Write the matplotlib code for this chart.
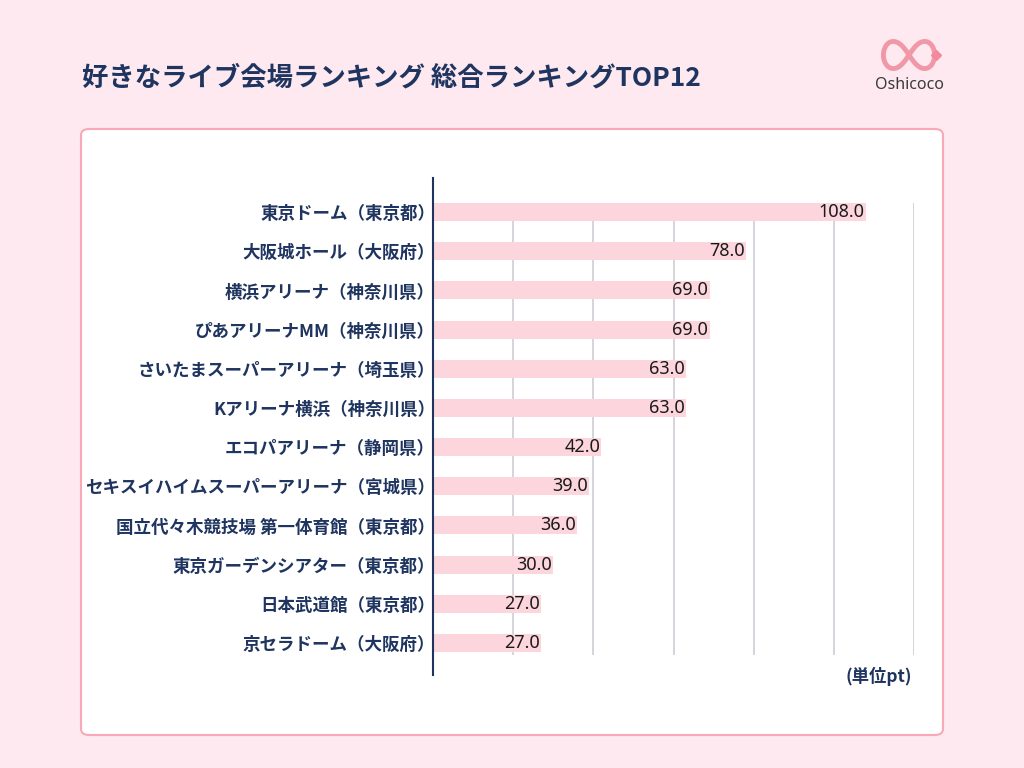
import matplotlib
matplotlib.use("Agg")
import matplotlib.pyplot as plt
import numpy as np
from matplotlib.patches import FancyBboxPatch

plt.rcParams['font.family'] = ['Noto Sans CJK JP', 'DejaVu Sans']

categories = [
    "東京ドーム（東京都）",
    "大阪城ホール（大阪府）",
    "横浜アリーナ（神奈川県）",
    "ぴあアリーナMM（神奈川県）",
    "さいたまスーパーアリーナ（埼玉県）",
    "Kアリーナ横浜（神奈川県）",
    "エコパアリーナ（静岡県）",
    "セキスイハイムスーパーアリーナ（宮城県）",
    "国立代々木競技場 第一体育館（東京都）",
    "東京ガーデンシアター（東京都）",
    "日本武道館（東京都）",
    "京セラドーム（大阪府）",
]
values = [108.0, 78.0, 69.0, 69.0, 63.0, 63.0, 42.0, 39.0, 36.0, 30.0, 27.0, 27.0]
grid_ticks = [20, 40, 60, 80, 100, 120]

title = "好きなライブ会場ランキング 総合ランキングTOP12"
unit_label = "(単位pt)"

NAVY = "#1f3560"
BG = "#fde9ef"
BAR = "#fcd5dd"
BORDER = "#f7a9b8"

W, H = 1024, 768
fig = plt.figure(figsize=(W / 100, H / 100), dpi=100)
fig.patch.set_facecolor(BG)

# white panel
panel = FancyBboxPatch((81 / W, 1 - 735 / H), (943 - 81) / W, (735 - 129) / H,
                       boxstyle="round,pad=0,rounding_size=0.008",
                       transform=fig.transFigure, facecolor="white",
                       edgecolor=BORDER, linewidth=1.5, zorder=-5)
fig.patches.append(panel)

fig.text(82 / W, 1 - 78 / H, title, fontsize=19, fontweight='bold', color=NAVY,
         va='center', ha='left')

# logo
lax = fig.add_axes([877 / W, 1 - 73 / H, 64 / W, 36 / H])
lax.set_xlim(-1.25, 1.25)
lax.set_ylim(-0.75, 0.75)
lax.axis('off')
t = np.linspace(0, 2 * np.pi, 400)
lx = np.cos(t) / (1 + np.sin(t) ** 2)
ly = np.sin(t) * np.cos(t) / (1 + np.sin(t) ** 2) * 1.6
lax.plot(lx, ly, color="#f08a9c", lw=3.5, alpha=0.85, solid_capstyle='round')
lax.plot([1.05], [0.0], marker='D', color="#f08a9c", ms=5)
fig.text(910 / W, 1 - 85 / H, "Oshicoco", fontsize=11.5, color="#3a3a3a",
         ha='center', va='center', family=['Noto Sans', 'DejaVu Sans'])

# main chart
ax = fig.add_axes([433 / W, 1 - 675 / H, (914 - 433) / W, (675 - 178) / H])
ax.set_zorder(3)
ax.set_facecolor('none')
y = np.arange(len(categories))
ax.set_xlim(0, 120)
ax.set_ylim(11.82, -0.87)
ax.vlines(grid_ticks, -0.23, 11.31, color="#d0ccd4", lw=1.2, zorder=1)
ax.barh(y, values, height=0.46, color=BAR, zorder=2)
for yi, v in zip(y, values):
    ax.text(v - 0.3, yi, f"{v:.1f}", ha='right', va='center', fontsize=13,
            color="#1a1a1a", zorder=3, family=['Noto Sans', 'DejaVu Sans'])
ax.set_yticks(y)
ax.set_yticklabels(categories, fontsize=12.6, fontweight='bold', color=NAVY)
ax.tick_params(axis='y', length=0, pad=-1.5)
ax.set_xticks([])
for s in ['top', 'right', 'bottom']:
    ax.spines[s].set_visible(False)
ax.spines['left'].set_color(NAVY)
ax.spines['left'].set_linewidth(1.5)

fig.text(912 / W, 1 - 676 / H, unit_label, fontsize=12.5, fontweight='bold',
         color=NAVY, ha='right', va='center')

fig.savefig("out.png", dpi=100, facecolor=BG)
